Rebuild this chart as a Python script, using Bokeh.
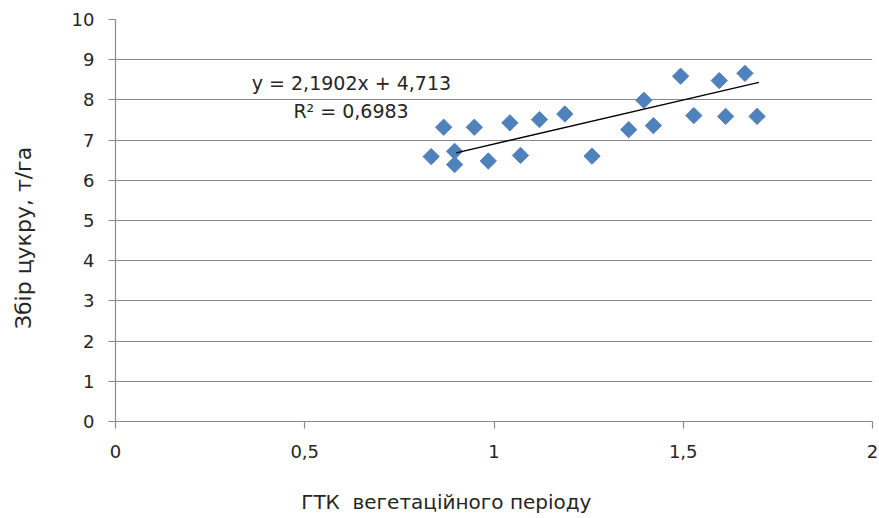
import math
from bokeh.plotting import figure
from bokeh.models import ColumnDataSource, FixedTicker, Label, Range1d
from bokeh.embed import file_html
from bokeh.resources import INLINE

# Data
gtk = [0.834, 0.867, 0.896, 0.896, 0.948, 0.985, 1.042, 1.070, 1.120, 1.187,
       1.259, 1.356, 1.396, 1.421, 1.493, 1.528, 1.595, 1.612, 1.663, 1.695]
sugar = [6.59, 7.32, 6.72, 6.39, 7.32, 6.48, 7.43, 6.62, 7.51, 7.65,
         6.60, 7.26, 7.99, 7.36, 8.59, 7.61, 8.48, 7.59, 8.66, 7.59]
slope = 2.1902
intercept = 4.713
trend_x = [0.9, 1.7]
r2_text = "R² = 0,6983"
eq_text = "y = 2,1902x + 4,713"
x_title = "ГТК\u00a0 вегетаційного періоду"
y_title = "Збір цукру, т/га"
x_ticks = [0, 0.5, 1, 1.5, 2]
x_tick_labels = ["0", "0,5", "1", "1,5", "2"]
y_ticks = list(range(0, 11))

FONT = "DejaVu Sans"
TXT = "#262626"
GRID = "#8a8a8a"
NB = "\u00a0"

p = figure(width=879, height=518, output_backend="svg", toolbar_location=None,
           x_range=Range1d(0, 2), y_range=Range1d(0, 10))
p.min_border_left = 115
p.min_border_right = 7
p.min_border_top = 19
p.min_border_bottom = 97
p.outline_line_color = None
p.background_fill_color = "white"
p.border_fill_color = "white"

src = ColumnDataSource(dict(x=gtk, y=sugar))
p.scatter("x", "y", source=src, marker="square", angle=math.pi / 4, size=11.5,
          fill_color="#4F81BD", line_color="#4F81BD")

p.line(trend_x, [slope * v + intercept for v in trend_x],
       line_color="black", line_width=1.3)

p.add_layout(Label(x=0.36, y=8.41, text=eq_text, text_font=FONT, text_font_size="19px",
                   text_color=TXT, text_baseline="middle"))
p.add_layout(Label(x=0.47, y=7.72, text=r2_text, text_font=FONT, text_font_size="19px",
                   text_color=TXT, text_baseline="middle"))

p.xgrid.visible = False
p.ygrid.grid_line_color = GRID
p.ygrid.grid_line_width = 1.2

p.xaxis.ticker = FixedTicker(ticks=x_ticks)
p.xaxis.major_label_overrides = {t: l for t, l in zip(x_ticks, x_tick_labels)}
p.yaxis.ticker = FixedTicker(ticks=y_ticks)

for ax in (p.xaxis, p.yaxis):
    ax.axis_line_color = GRID
    ax.axis_line_width = 1.2
    ax.major_tick_line_color = GRID
    ax.major_tick_line_width = 1.2
    ax.major_tick_out = 7
    ax.major_tick_in = 0
    ax.minor_tick_line_color = None
    ax.major_label_text_font = FONT
    ax.major_label_text_font_size = "18px"
    ax.major_label_text_color = TXT
    ax.axis_label_text_font = FONT
    ax.axis_label_text_font_style = "normal"
    ax.axis_label_text_color = TXT

p.yaxis.major_label_standoff = 14
p.xaxis.major_label_standoff = 16

# Titles sit off-centre in the reference; trailing no-break spaces shift them
p.xaxis.axis_label = x_title + NB * 15
p.xaxis.axis_label_text_font_size = "20px"
p.xaxis.axis_label_standoff = 29
p.yaxis.axis_label = y_title + NB * 5
p.yaxis.axis_label_text_font_size = "22px"
p.yaxis.axis_label_standoff = 33

open("out.html", "w").write(file_html(p, INLINE))
